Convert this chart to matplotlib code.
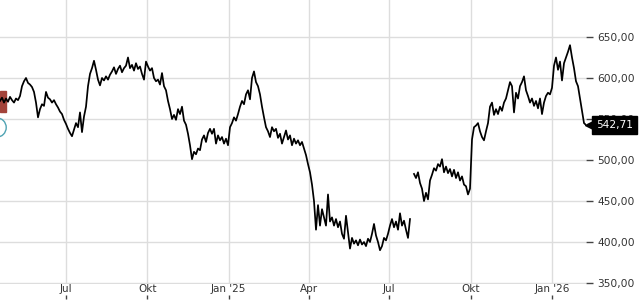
import matplotlib
matplotlib.use("Agg")
import matplotlib.pyplot as plt
import matplotlib.transforms as mtransforms
from matplotlib.patches import Rectangle
import numpy as np
import pandas as pd

# Kursverlauf (roughly every 2 px)
start_date = "2024-04-18"
end_date = "2026-02-08"
prices = [
    572, 576, 570, 575, 571, 577, 573, 570, 575, 573,
    578, 590, 596, 600, 594, 592, 589, 583, 570, 552,
    562, 568, 566, 583, 576, 574, 570, 573, 568, 564,
    559, 556, 549, 544, 538, 533, 529, 537, 545, 540,
    558, 534, 553, 565, 590, 605, 612, 621, 610, 598,
    591, 600, 597, 602, 598, 604, 608, 613, 605, 611,
    615, 607, 612, 615, 625, 612, 616, 609, 618, 611,
    614, 605, 598, 620, 614, 609, 612, 600, 596, 598,
    592, 606, 590, 585, 572, 562, 550, 555, 549, 562,
    556, 565, 548, 543, 532, 518, 501, 510, 507, 514,
    512, 525, 530, 522, 533, 538, 532, 538, 520, 530,
    524, 528, 520, 526, 518, 540, 545, 552, 548, 556,
    565, 572, 568, 580, 585, 574, 600, 608, 595, 590,
    580, 565, 552, 540, 535, 528, 540, 535, 538, 527,
    532, 520, 528, 536, 525, 530, 518, 526, 520, 524,
    518, 522, 514, 506, 495, 485, 470, 450, 415, 445,
    420, 440, 430, 420, 458, 425, 430, 420, 428, 418,
    425, 410, 404, 432, 412, 392, 405, 398, 402, 396,
    403, 397, 400, 395, 404, 400, 410, 422, 408, 400,
    390, 395, 405, 402, 410, 420, 428, 418, 425, 415,
    435, 420, 426, 415, 405, 428, np.nan, 483, 478, 485,
    472, 465, 450, 460, 452, 475, 482, 490, 487, 495,
    492, 501, 485, 492, 484, 489, 480, 488, 478, 485,
    475, 480, 470, 468, 458, 465, 525, 540, 542, 545,
    535, 528, 524, 535, 545, 565, 570, 555, 562, 556,
    565, 560, 570, 575, 585, 595, 590, 558, 582, 575,
    590, 595, 602, 585, 578, 570, 575, 566, 572, 563,
    575, 556, 570, 578, 582, 580, 588, 615, 625, 610,
    620, 597, 618, 625, 632, 640, 625, 612, 596, 590,
    575, 560, 545, 542.71,
]
last_price = 542.71

tick_dates = ["2024-07-01", "2024-10-01", "2025-01-01", "2025-04-01",
              "2025-07-01", "2025-10-01", "2026-01-01"]
tick_labels = ["Jul", "Okt", "Jan '25", "Apr", "Jul", "Okt", "Jan '26"]
y_ticks = [350, 400, 450, 500, 550, 600, 650]

dates = pd.date_range(start_date, end_date, periods=len(prices))
xticks = pd.to_datetime(tick_dates)

fig = plt.figure(figsize=(6.4, 3.0), dpi=100)
ax = fig.add_axes([0, 16 / 300, 586 / 640, 284 / 300])

ax.plot(dates, prices, color="black", lw=1.25, zorder=3)
ax.set_xlim(dates[0], dates[-1])
ax.set_ylim(348.8, 695.1)

ax.set_yticks(y_ticks)
ax.set_yticklabels([f"{v:.2f}".replace(".", ",") for v in y_ticks])
ax.yaxis.tick_right()
ax.tick_params(axis="y", length=5, width=1, color="#444444", pad=3,
               labelsize=7.7, labelcolor="#333333")

ax.set_xticks(xticks)
ax.set_xticklabels(tick_labels)
ax.tick_params(axis="x", length=0, pad=0, labelsize=7.5, labelcolor="#333333")

ax.grid(color="#dddddd", lw=1)
ax.set_axisbelow(True)
for s in ax.spines.values():
    s.set_visible(False)

# small tick marks below the month labels
ax.vlines(xticks, -0.040, -0.053, transform=ax.get_xaxis_transform(),
          color="#444444", lw=1, clip_on=False)

# cut-off markers at the left edge
ytrans = ax.get_yaxis_transform()
ax.add_patch(Rectangle((0, 558.5), 0.0102, 25.5, transform=ytrans,
                       color="#a3433a", zorder=2))
ax.plot([dates[0] - pd.Timedelta(days=4)], [540], marker="o", ms=14,
        mfc="none", mec="#4fa3b3", mew=1, zorder=2)

# last price tag (covers the 550,00 label as in the original)
ax.annotate(f"{last_price:.2f}".replace(".", ","), xy=(1, last_price),
            xycoords=ytrans, xytext=(10, 0), textcoords="offset pixels",
            ha="left", va="center", color="white", fontsize=7.7,
            bbox=dict(boxstyle="square,pad=0.35", fc="black", ec="black"),
            annotation_clip=False, zorder=10)
tri = mtransforms.offset_copy(ytrans, fig=fig, x=5, y=0, units="dots")
ax.plot([1.0], [last_price], marker="<", ms=9, color="black",
        transform=tri, clip_on=False, zorder=10)

fig.savefig("out.png", dpi=100)
